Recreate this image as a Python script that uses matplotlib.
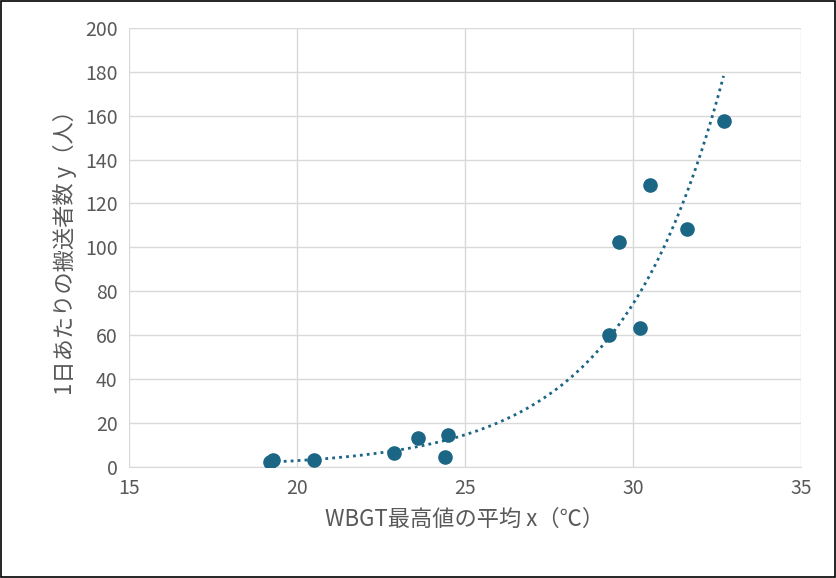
import numpy as np
import matplotlib
matplotlib.use("Agg")
from matplotlib import pyplot as plt

plt.rcParams['font.family'] = 'Noto Sans CJK JP'

wbgt = [19.2, 19.3, 20.5, 22.9, 23.6, 24.4, 24.5, 29.3, 29.6, 30.2, 30.5, 31.6, 32.7]
cases = [2.5, 3.0, 3.0, 6.5, 13.0, 4.5, 14.5, 60.0, 102.5, 63.5, 128.5, 108.5, 157.5]

color = '#1b6585'
gray = '#595959'

fig = plt.figure(figsize=(8.36, 5.78), dpi=100)
ax = fig.add_axes([0.154, 0.192, 0.804, 0.760])
fig.patches.append(plt.Rectangle((0.001, 0.001), 0.998, 0.998, transform=fig.transFigure,
                                 fill=False, edgecolor='black', linewidth=1.2))

# exponential trendline (fit on log y, like Excel)
b, a = np.polyfit(wbgt, np.log(cases), 1)
xs = np.linspace(min(wbgt), max(wbgt), 200)
ax.plot(xs, np.exp(a + b * xs), linestyle=(0, (1, 1.5)), color=color, linewidth=2, zorder=2)

ax.scatter(wbgt, cases, s=90, color=color, zorder=3)

ax.set_xlim(15, 35)
ax.set_ylim(0, 200)
ax.set_xticks(range(15, 36, 5))
ax.set_yticks(range(0, 201, 20))
ax.grid(True, color='#d9d9d9', linewidth=1)
ax.set_axisbelow(True)
for s in ['top', 'right', 'left']:
    ax.spines[s].set_visible(False)
ax.spines['bottom'].set_color('#d9d9d9')
ax.tick_params(length=0, labelsize=14, colors=gray, pad=8)
ax.set_xlabel('WBGT最高値の平均 x（℃）', fontsize=16, color=gray, labelpad=6)
ax.set_ylabel('1日あたりの搬送者数 y（人）', fontsize=16, color=gray, labelpad=6)

fig.savefig('out.png', dpi=100)
